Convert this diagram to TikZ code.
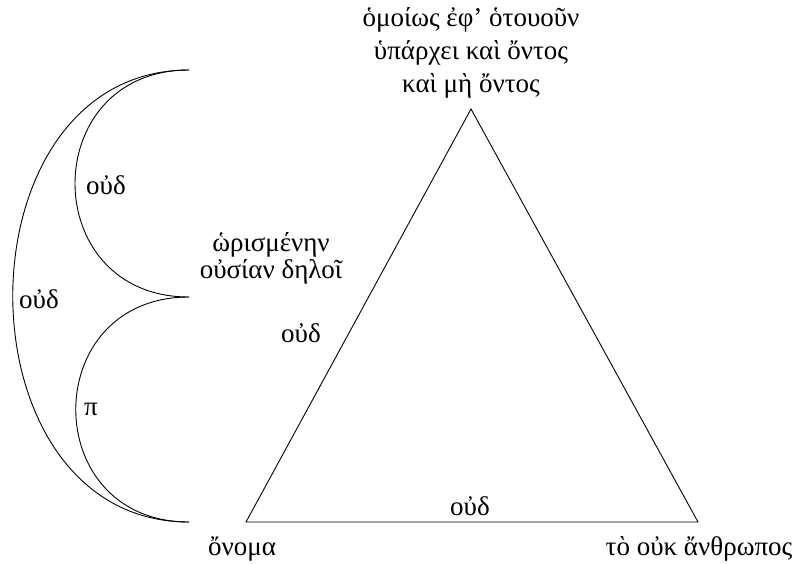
\documentclass[tikz,border=0pt]{standalone}
\usepackage{fontspec}
\setmainfont{Liberation Serif}
\begin{document}
\begin{tikzpicture}[x=1pt,y=-1pt,
  lbl/.style={inner sep=0pt,font=\fontsize{27}{27}\selectfont},
  toplbl/.style={lbl,align=center,font=\fontsize{27}{33}\selectfont},
  edge/.style={line width=0.9pt}]
\useasboundingbox (0,0) rectangle (802,563);
% triangle corners
\coordinate (T) at (471,109);
\coordinate (L) at (246,522);
\coordinate (R) at (698,522);
% arc ends
\coordinate (P1) at (189,70);
\coordinate (P2) at (189,297);
\coordinate (P3) at (189,522);
\draw[edge] (T) -- (L) -- (R) -- cycle;
\draw[edge] (P1) .. controls +(-152,0) and +(-152,0) .. (P2);
\draw[edge] (P2) .. controls +(-151,0) and +(-151,0) .. (P3);
\draw[edge] (P1) .. controls +(-235,0) and +(-235,0) .. (P3);
% labels
\node[toplbl] (top) at (471,53) {ὁμοίως ἐφ’ ὁτουοῦν\\ὑπάρχει καὶ ὄντος\\καὶ μὴ ὄντος};
\node[lbl,align=center] (mid) at (271,258) {ὡρισμένην\\οὐσίαν δηλοῖ};
\node[lbl] (onoma) at (242,549) {ὄνομα};
\node[lbl] (anth) at (699,549) {τὸ οὐκ ἄνθρωπος};
\node[lbl] (o1) at (470,506) {οὐδ};
\node[lbl] (o2) at (301,333) {οὐδ};
\node[lbl] (o3) at (106,185) {οὐδ};
\node[lbl] (o4) at (39,299) {οὐδ};
\node[lbl] (pi) at (91,409) {π};
\end{tikzpicture}
\end{document}
